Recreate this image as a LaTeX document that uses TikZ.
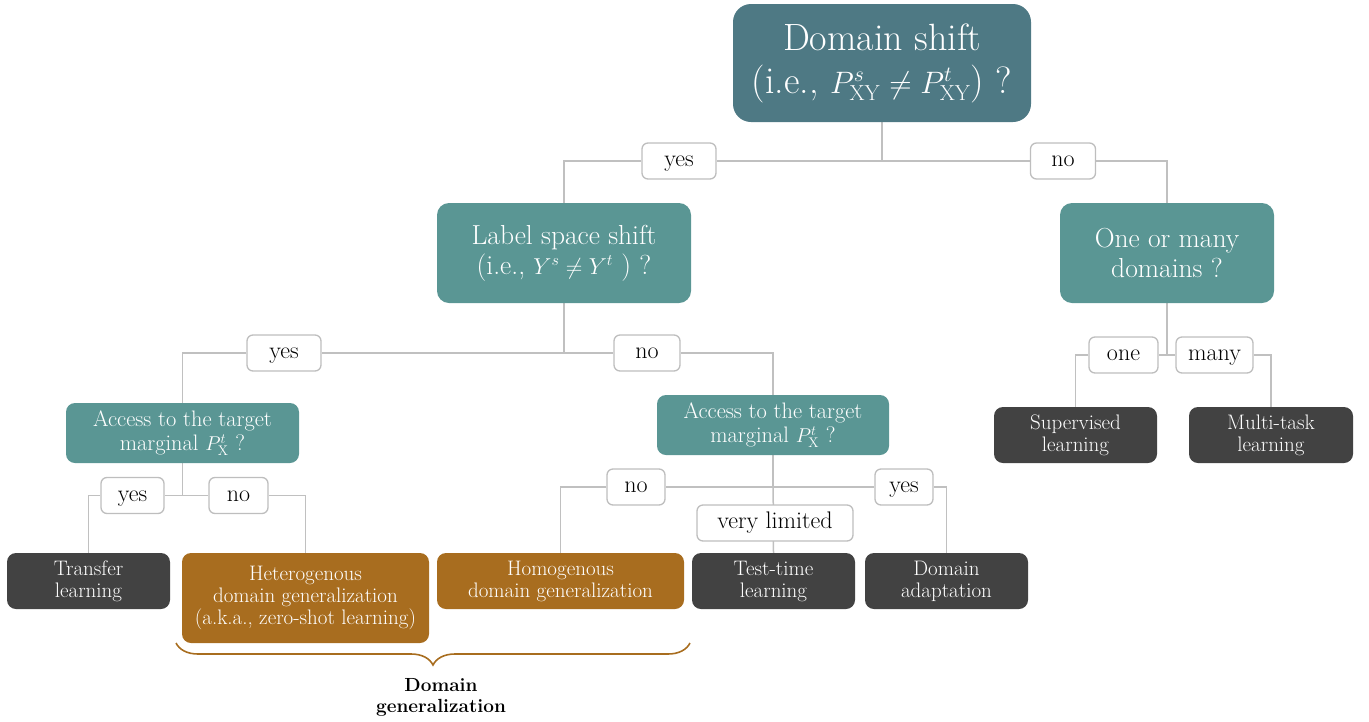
\RequirePackage{fix-cm}
\documentclass[tikz,border=0pt]{standalone}
\usetikzlibrary{backgrounds,decorations.pathreplacing}
\definecolor{rootc}{RGB}{78,121,132}
\definecolor{tealc}{RGB}{90,150,148}
\definecolor{darkc}{RGB}{66,66,66}
\definecolor{brownc}{RGB}{168,109,31}
\definecolor{linec}{RGB}{192,192,192}
\definecolor{lblc}{RGB}{190,190,190}
\newcommand{\mathsz}[2]{{\fontsize{#1}{#1}\selectfont$#2$}}
\tikzset{
  box/.style={rounded corners=12pt, text=white, align=center, inner sep=0pt},
  rootbox/.style={box, fill=rootc, rounded corners=18pt, font=\fontsize{38}{43}\selectfont},
  qbox/.style={box, fill=tealc, font=\fontsize{27.5}{30}\selectfont},
  abox/.style={box, fill=tealc, rounded corners=9pt, font=\fontsize{22.4}{24}\selectfont},
  leaf/.style={box, fill=darkc, rounded corners=9pt, minimum width=163pt, minimum height=56pt, font=\fontsize{21}{22}\selectfont},
  dgleaf/.style={leaf, fill=brownc},
  lbl/.style={draw=lblc, line width=1.3pt, fill=white, rounded corners=6pt, minimum height=36pt, inner xsep=6pt, inner ysep=0pt, text height=16pt, text depth=5pt, font=\fontsize{24}{26}\selectfont},
  conn/.style={draw=linec, line width=1.5pt},
}
\begin{document}
\begin{tikzpicture}[x=1pt,y=-1pt]
\useasboundingbox (0,0) rectangle (1369,721);
% decision boxes
\node[rootbox, minimum width=298pt, minimum height=118pt] (root) at (882,63)
  {Domain shift\\(i.e., \mathsz{31}{P^{s}_{\mathrm{XY}} \neq P^{t}_{\mathrm{XY}}}) ?};
\node[qbox, minimum width=254pt, minimum height=100pt] (ls) at (564,253)
  {Label space shift\\(i.e., \mathsz{23}{Y^{s} \neq Y^{t}} ) ?};
\node[qbox, minimum width=214pt, minimum height=100pt] (oom) at (1167,253)
  {One or many\\domains ?};
\node[abox, minimum width=233pt, minimum height=60pt] (acc1) at (182.5,433)
  {Access to the target\\marginal \mathsz{20}{P^{t}_{\mathrm{X}}} ?};
\node[abox, minimum width=232pt, minimum height=60pt] (acc2) at (773,425)
  {Access to the target\\marginal \mathsz{20}{P^{t}_{\mathrm{X}}} ?};
% leaves
\node[leaf] (transfer) at (88.5,581) {Transfer\\learning};
\node[dgleaf, minimum width=247pt, minimum height=90pt] (hetero) at (305.5,598)
  {Heterogenous\\domain generalization\\(a.k.a., zero-shot learning)};
\node[dgleaf, minimum width=247pt] (homo) at (560.5,581) {Homogenous\\domain generalization};
\node[leaf] (test) at (773.5,581) {Test-time\\learning};
\node[leaf] (da) at (946.5,581) {Domain\\adaptation};
\node[leaf] (sup) at (1075.5,435) {Supervised\\learning};
\node[leaf, minimum width=164pt] (multi) at (1271,435) {Multi-task\\learning};
% edge labels
\node[lbl, minimum width=74pt] (yes1) at (679,161) {yes};
\node[lbl, minimum width=65pt] (no1) at (1063,161) {no};
\node[lbl, minimum width=74pt] (yes2) at (284,353) {yes};
\node[lbl, minimum width=66pt] (no2) at (647,353) {no};
\node[lbl, minimum width=63pt] (yes3) at (132.5,495.5) {yes};
\node[lbl, minimum width=59pt] (no3) at (238.5,495.5) {no};
\node[lbl, minimum width=58pt] (no4) at (636,487) {no};
\node[lbl, minimum width=58pt] (yes4) at (904,487) {yes};
\node[lbl, minimum width=156pt] (vl) at (775,523) {very limited};
\node[lbl, minimum width=69pt] (one) at (1123.5,355) {one};
\node[lbl, minimum width=77pt] (many) at (1214.5,355) {many};
% connectors
\begin{scope}[on background layer]
\draw[conn] (root.south) |- (yes1) -| (ls.north);
\draw[conn] (root.south) |- (no1) -| (oom.north);
\draw[conn] (ls.south) |- (yes2) -| (acc1.north);
\draw[conn] (ls.south) |- (no2) -| (acc2.north);
\draw[conn] (acc1.south) |- (yes3) -| (transfer.north);
\draw[conn] (acc1.south) |- (no3) -| (hetero.north);
\draw[conn] (acc2.south) |- (no4) -| (homo.north);
\draw[conn] (acc2.south) |- (yes4) -| (da.north);
\draw[conn] (acc2.south) -- (test.north);
\draw[conn] (oom.south) |- (one) -| (sup.north);
\draw[conn] (oom.south) |- (many) -| (multi.north);
\end{scope}
% brace
\coordinate (bl) at (176,643);
\coordinate (br) at (690,643);
\draw[brownc, line width=1.6pt, decorate, decoration={brace, mirror, amplitude=22pt, raise=0pt}] (bl) -- (br);
\node[align=center, font=\fontsize{19}{21}\selectfont\bfseries] (dglab) at (441,697) {Domain\\generalization};
\end{tikzpicture}
\end{document}
